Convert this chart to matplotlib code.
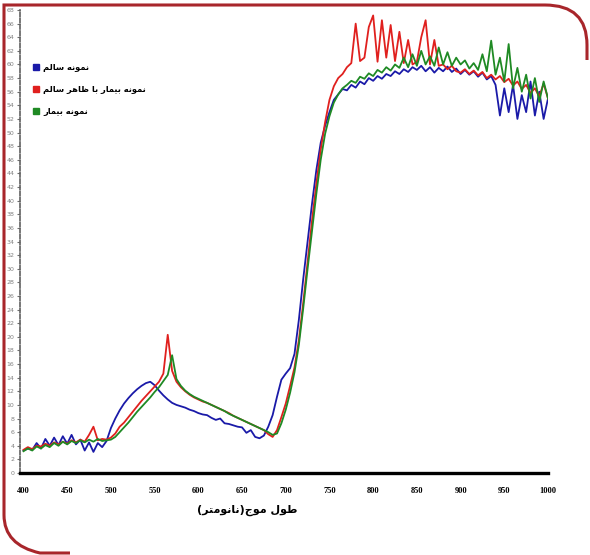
import matplotlib
matplotlib.use("Agg")
import matplotlib.pyplot as plt
import numpy as np
from matplotlib.lines import Line2D
from matplotlib.patches import PathPatch
from matplotlib.path import Path

# wavelength grid (nm), one reading every 5 nm
wavelength = np.arange(400, 1001, 5)

# healthy sample (blue)
healthy = [
    3.3, 3.6, 3.4, 4.4, 3.6, 5.0, 4.0, 5.2, 4.1, 5.4,
    4.3, 5.6, 4.2, 4.9, 3.3, 4.5, 3.1, 4.4, 3.8, 4.7,
    6.6, 8.0, 9.2, 10.2, 11.0, 11.7, 12.3, 12.8, 13.2, 13.4,
    12.9, 12.1, 11.4, 10.8, 10.3, 10.0, 9.8, 9.6, 9.3, 9.1,
    8.8, 8.6, 8.5, 8.1, 7.8, 8.0, 7.3, 7.2, 7.0, 6.8,
    6.7, 5.9, 6.3, 5.3, 5.1, 5.5, 6.8, 8.5, 11.2, 13.7,
    14.6, 15.4, 17.5, 22.5, 28.5, 34.0, 39.5, 44.5, 48.5, 51.0,
    53.0, 54.8, 55.6, 56.4, 56.2, 57.0, 56.6, 57.5, 57.1, 58.0,
    57.6, 58.3, 57.9, 58.6, 58.3, 59.0, 58.6, 59.3, 58.9, 59.6,
    59.2, 59.8, 59.0, 59.6, 58.8, 59.5, 59.0, 59.7, 58.9, 59.4,
    58.6, 59.2, 58.5, 59.0, 58.2, 58.8, 57.8, 58.3, 57.0, 52.5,
    56.5, 53.0, 57.0, 52.0, 55.5, 53.0, 57.5, 52.5, 56.0, 52.0,
    55.0,
]

# diseased sample that looks healthy (red)
hidden = [
    3.4, 3.8, 3.5, 4.0, 3.9, 4.3, 4.0, 4.5, 4.2, 4.6,
    4.3, 4.8, 4.5, 4.9, 4.6, 5.6, 6.8, 4.8, 5.0, 4.9,
    5.2, 5.8, 6.8, 7.4, 8.2, 9.0, 9.8, 10.6, 11.3, 12.0,
    12.7, 13.4, 14.6, 20.3, 15.0, 13.4, 12.6, 12.0, 11.5, 11.1,
    10.8, 10.5, 10.3, 10.0, 9.7, 9.4, 9.1, 8.8, 8.4, 8.1,
    7.8, 7.5, 7.2, 6.9, 6.6, 6.3, 5.7, 5.3, 6.3, 8.2,
    10.2, 12.8, 15.5, 19.5, 25.0, 31.0, 37.0, 42.5, 47.5, 51.5,
    54.8, 56.8, 58.0, 58.6, 59.6, 60.2, 66.0, 60.5, 61.0, 65.5,
    67.2, 60.4, 66.5, 61.0, 65.8, 60.5, 64.8, 60.2, 63.6, 60.0,
    60.4, 64.0, 66.5, 60.0, 63.6, 59.8, 60.0, 59.3, 59.8, 59.0,
    58.8, 59.3, 58.6, 59.1, 58.4, 58.9, 58.0, 58.5, 57.8, 58.3,
    57.4, 57.9, 56.9, 57.5, 56.4, 57.0, 55.8, 56.5, 55.3, 57.2,
    55.0,
]

# diseased sample (green)
diseased = [
    3.2, 3.6, 3.3, 3.9, 3.6, 4.1, 3.8, 4.4, 4.0, 4.6,
    4.2, 4.7, 4.4, 4.8, 4.5, 4.9, 4.6, 5.0, 4.7, 4.8,
    4.9, 5.3, 6.0, 6.7, 7.4, 8.2, 9.0, 9.7, 10.4, 11.1,
    11.9, 12.6, 13.5, 14.4, 17.3, 13.8, 12.8, 12.1, 11.6, 11.2,
    10.9, 10.6, 10.3, 10.0, 9.7, 9.4, 9.1, 8.7, 8.4, 8.1,
    7.8, 7.5, 7.2, 6.9, 6.6, 6.3, 6.0, 5.6, 5.8, 7.3,
    9.3, 11.8, 14.8, 18.8, 24.2, 30.0, 35.5, 41.0, 46.0, 49.8,
    52.4, 54.4, 55.6, 56.5, 57.0, 57.6, 57.3, 58.2, 57.9, 58.7,
    58.3, 59.2, 58.8, 59.6, 59.1, 60.0, 59.5, 61.0, 59.6, 61.5,
    59.8, 62.0, 60.0, 61.2, 59.8, 62.5, 60.0, 61.8, 59.8, 61.0,
    60.0, 60.6, 59.4, 60.2, 59.2, 61.5, 59.0, 63.5, 58.5, 61.0,
    57.5, 63.0, 56.5, 59.5, 56.0, 58.5, 55.0, 58.0, 54.5, 57.5,
    55.0,
]

series_labels = ["نمونه سالم", "نمونه بیمار با ظاهر سالم", "نمونه بیمار"]
series_colors = ["#1a1aa8", "#e0201e", "#1f8a24"]
x_ticks = list(range(400, 1001, 50))
y_ticks = list(range(0, 69, 2))
x_title = "طول موج(نانومتر)"

# contextual forms (isolated, final, initial, medial) for the letters used
FORMS = {
    'ا': ('\uFE8D', '\uFE8E', None, None),
    'ب': ('\uFE8F', '\uFE90', '\uFE91', '\uFE92'),
    'ت': ('\uFE95', '\uFE96', '\uFE97', '\uFE98'),
    'ج': ('\uFE9D', '\uFE9E', '\uFE9F', '\uFEA0'),
    'ر': ('\uFEAD', '\uFEAE', None, None),
    'س': ('\uFEB1', '\uFEB2', '\uFEB3', '\uFEB4'),
    'ط': ('\uFEC1', '\uFEC2', '\uFEC3', '\uFEC4'),
    'ظ': ('\uFEC5', '\uFEC6', '\uFEC7', '\uFEC8'),
    'ل': ('\uFEDD', '\uFEDE', '\uFEDF', '\uFEE0'),
    'م': ('\uFEE1', '\uFEE2', '\uFEE3', '\uFEE4'),
    'ن': ('\uFEE5', '\uFEE6', '\uFEE7', '\uFEE8'),
    'ه': ('\uFEE9', '\uFEEA', '\uFEEB', '\uFEEC'),
    'و': ('\uFEED', '\uFEEE', None, None),
    'ی': ('\uFBFC', '\uFBFD', '\uFBFE', '\uFBFF'),
}


def shape(text):
    # matplotlib has no arabic shaping, so pick the joined forms and reverse
    out = []
    for i, ch in enumerate(text):
        if ch not in FORMS:
            out.append(ch)
            continue
        prev = text[i - 1] if i > 0 else ''
        nxt = text[i + 1] if i + 1 < len(text) else ''
        join_prev = prev in FORMS and FORMS[prev][2] is not None
        join_next = FORMS[ch][2] is not None and nxt in FORMS
        iso, fin, ini, med = FORMS[ch]
        if join_prev and join_next:
            out.append(med)
        elif join_prev:
            out.append(fin)
        elif join_next:
            out.append(ini)
        else:
            out.append(iso)
    mirror = {'(': ')', ')': '('}
    return ''.join(mirror.get(c, c) for c in reversed(out))


W, H = 590, 555
fig = plt.figure(figsize=(W / 100, H / 100), dpi=100)
ax = fig.add_axes([20 / W, 1 - 473 / H, 528 / W, 463 / H])

for values, color in zip([healthy, hidden, diseased], series_colors):
    ax.plot(wavelength, values, color=color, linewidth=1.3)

ax.set_xlim(396, 1000)
ax.set_ylim(0, 68)

ax.set_xticks(x_ticks)
ax.set_xticklabels([str(t) for t in x_ticks], fontfamily="Liberation Serif",
                   fontweight="bold", fontsize=6)
ax.tick_params(axis="x", length=0, pad=10)

ax.set_yticks(y_ticks)
ax.set_yticklabels([str(t) for t in y_ticks], fontsize=4.5, color="#808080")
ax.tick_params(axis="y", length=2, width=0.8, color="#707070", pad=2)

ax.spines["top"].set_visible(False)
ax.spines["right"].set_visible(False)
ax.spines["bottom"].set_linewidth(2.4)
ax.spines["bottom"].set_color("black")
ax.spines["left"].set_color("#606060")
ax.spines["left"].set_linewidth(1.2)
ax.spines["left"].set_linestyle((0, (2.5, 1.2)))

# legend: colored squares with persian labels
handles = [Line2D([], [], marker="s", markersize=4.5, linestyle="none", color=c)
           for c in series_colors]
ax.legend(handles, [shape(s) for s in series_labels], loc="upper left",
          bbox_to_anchor=(33 / W, 1 - 63 / H), bbox_transform=fig.transFigure,
          frameon=False, borderpad=0, borderaxespad=0, handlelength=0.8,
          handletextpad=0.4, labelspacing=1.55,
          prop={"family": "DejaVu Sans", "weight": "bold", "size": 6})

fig.text(247 / W, 1 - 510 / H, shape(x_title), ha="center", va="center",
         fontsize=8, fontweight="bold", fontfamily="DejaVu Sans")

# decorative dark red frame with rounded corners
def px(x, y):
    return (x / W, 1 - y / H)

frame_verts = [px(70, 553), px(40, 553), px(4, 545), px(4, 515),
               px(4, 5), px(545, 5), px(587, 5), px(587, 45), px(587, 60)]
frame_codes = [Path.MOVETO, Path.LINETO, Path.CURVE3, Path.CURVE3,
               Path.LINETO, Path.LINETO, Path.CURVE3, Path.CURVE3, Path.LINETO]
fig.add_artist(PathPatch(Path(frame_verts, frame_codes), transform=fig.transFigure,
                         fill=False, edgecolor="#a8262b", linewidth=2.2))

fig.savefig("out.png", dpi=100)
